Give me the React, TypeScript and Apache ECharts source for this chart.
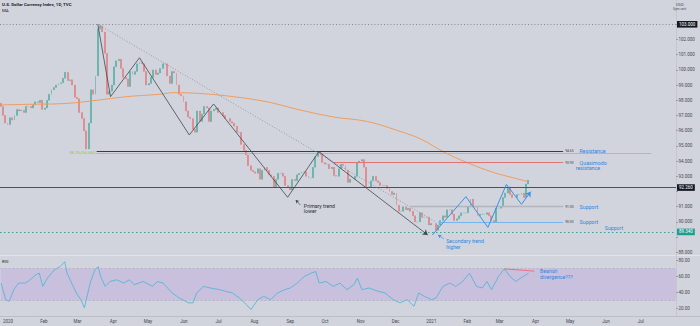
import React, { useEffect, useRef } from 'react';
import * as echarts from 'echarts';

// ---------- time frame ----------
const AXIS_START_UTC = Date.UTC(2019, 11, 26);
const AXIS_DAYS = 584;
const monthNames = ['Jan', 'Feb', 'Mar', 'Apr', 'May', 'Jun', 'Jul', 'Aug', 'Sep', 'Oct', 'Nov', 'Dec'];

// ---------- price: 2-day candles starting 2019-12-26 (close values) ----------
const CANDLE_STEP = 2;
const firstOpen = 97.8;
const closes = [
  // Dec 2019
  97.6, 97.0, 96.5,
  // Jan 2020
  96.4, 96.85, 96.7, 97.0, 97.4, 97.3, 97.35, 97.2, 97.6, 97.6, 97.5, 97.7, 97.9, 97.85, 98.0, 97.4,
  // Feb
  97.5, 98.0, 98.4, 98.7, 98.85, 99.0, 99.1, 99.15, 99.45, 99.85, 99.3, 99.35, 99.0, 98.2,
  // Mar
  98.1, 97.2, 96.8, 96.0, 94.8, 96.5, 98.7, 98.4, 99.6, 102.7, 102.9, 102.5, 101.1, 98.4, 98.6, 99.0,
  // Apr
  100.2, 100.6, 100.7, 100.1, 99.5, 99.4, 98.9, 99.9, 99.7, 99.9, 100.4, 100.5, 100.4, 99.9, 99.0,
  // May
  99.1, 99.5, 100.0, 99.7, 99.8, 100.1, 100.4, 100.4, 99.6, 99.1, 99.9, 99.8, 99.0, 98.4, 98.3,
  // Jun
  97.9, 97.3, 96.9, 96.8, 96.1, 95.9, 97.3, 96.6, 97.1, 97.6, 97.5, 96.6, 97.3, 97.4, 97.5,
  // Jul
  97.2, 97.2, 97.0, 96.8, 96.8, 96.6, 96.5, 96.3, 95.9, 95.9, 95.1, 94.7, 94.4, 93.7, 93.4, 93.3,
  // Aug
  93.2, 93.5, 92.8, 93.4, 93.6, 93.4, 93.1, 93.0, 92.3, 92.8, 93.2, 93.2, 93.0, 92.4, 92.3,
  // Sep
  92.1, 92.8, 92.7, 93.1, 93.2, 93.3, 93.3, 93.0, 92.9, 92.9, 93.6, 94.3, 94.6, 94.5, 93.9,
  // Oct
  93.8, 93.8, 93.5, 93.6, 93.05, 93.0, 93.5, 93.8, 93.7, 93.4, 92.6, 92.8, 92.8, 93.0, 93.9, 94.0,
  // Nov
  94.1, 93.6, 92.3, 92.3, 92.7, 93.0, 92.7, 92.6, 92.4, 92.4, 92.4, 92.2, 92.0, 91.8, 91.9,
  // Dec
  91.1, 90.7, 90.7, 91.0, 90.8, 90.9, 90.7, 90.4, 90.0, 90.0, 90.6, 90.3, 90.3, 90.3, 89.8,
  // Jan 2021
  89.9, 89.9, 89.45, 89.8, 90.1, 90.4, 90.3, 90.8, 90.8, 90.5, 90.1, 90.2, 90.4, 90.6, 90.6, 90.6,
  // Feb
  91.0, 91.5, 91.0, 91.0, 90.4, 90.5, 90.5, 90.5, 90.6, 90.4, 90.1, 90.0, 90.9, 90.9,
  // Mar
  91.0, 91.6, 91.9, 92.3, 91.8, 91.6, 91.6, 91.8, 91.8, 91.9, 91.6, 92.5, 92.756,
];

// ---------- moving average (day offsets from axis start) ----------
const maDays = [0, 28, 58, 83, 109, 138, 149, 172, 201, 230, 259, 288, 317, 346, 363, 383, 403, 426, 443, 456];
const maValues = [97.7, 97.74, 97.8, 98.0, 98.24, 98.4, 98.5, 98.45, 98.24, 97.9, 97.36, 96.9, 96.6, 95.93, 95.45, 94.6, 93.9, 93.25, 92.9, 92.65];

// ---------- RSI (day offsets from axis start) ----------
const rsiDays = [0, 4, 7, 11, 15, 21, 25, 30, 33, 36, 40, 46, 51, 55, 57, 61, 65, 69, 72, 77, 81, 84, 86, 90, 94, 100, 106, 111, 115, 123, 131, 135, 140, 148, 154, 162, 166, 169, 175, 181, 189, 194, 200, 206, 212, 216, 222, 227, 233, 239, 245, 250, 256, 262, 268, 272, 275, 281, 287, 293, 299, 305, 308, 312, 318, 326, 332, 339, 345, 351, 357, 361, 366, 372, 376, 382, 388, 393, 399, 405, 411, 416, 420, 424, 430, 435, 440, 445, 449, 456];
const rsiValues = [51.8, 31.2, 29.1, 43.6, 51.8, 51.8, 55.9, 62.1, 64.2, 47.7, 58, 68.3, 72.3, 78.5, 64.2, 51.8, 39.5, 31.2, 21, 51.8, 68.3, 72.3, 60, 47.7, 53.8, 55.9, 51.8, 55.9, 49.8, 53.8, 47.7, 53.8, 51.8, 39.5, 33.3, 27.2, 27.2, 39.5, 47.7, 45.7, 43.6, 41.6, 39.5, 33.3, 25.1, 18.9, 31.2, 35.3, 31.2, 39.5, 43.6, 45.7, 51.8, 60, 64.2, 66.2, 51.8, 53.8, 47.7, 51.8, 43.6, 49.8, 58, 43.6, 45.7, 41.6, 39.5, 31.2, 27.2, 31.2, 23, 39.5, 35.3, 31.2, 33.3, 47.7, 51.8, 47.7, 53.8, 64.2, 47.7, 45.7, 53.8, 43.6, 60, 69.5, 60, 53.8, 58, 64.2];

// ---------- drawings ----------
const primaryTrend: [string, number][] = [
  ['2020-03-19', 103.0], ['2020-03-30', 98.24], ['2020-04-24', 100.8], ['2020-06-06', 95.72],
  ['2020-06-27', 97.76], ['2020-08-30', 91.62], ['2020-09-26', 94.62], ['2020-12-29', 89.14],
];
const secondaryTrend: [string, number][] = [
  ['2021-01-02', 89.14], ['2021-01-31', 91.66], ['2021-02-19', 89.64], ['2021-03-07', 92.47],
  ['2021-03-20', 91.16], ['2021-03-28', 91.99],
];
const trendLine: [string, number][] = [['2020-03-19', 103.0], ['2021-01-05', 90.0]];

const highLevel = 103.0;
const lastClose = 92.756;
const keyLevel = 92.26;
const lowLevel = 89.34;
const resistanceLevel = 94.65;
const fibLevel = 94.545;
const quasimodoLevel = 93.9;
const support1Level = 91.0;
const support2Level = 90.0;
const divergence: [string, number][] = [['2021-03-05', 69.5], ['2021-03-31', 66.7]];

const BG = '#d1d4dc';
const FONT = 'Roboto, "Noto Sans", "DejaVu Sans", sans-serif';
const UP = '#35a898';
const DOWN = '#e66b6e';
const BLUE = '#2f86e0';

const categories: string[] = [];
for (let i = 0; i < AXIS_DAYS; i++) {
  categories.push(new Date(AXIS_START_UTC + i * 86400000).toISOString().slice(0, 10));
}

function buildOption() {
  const candleData = closes.map((c, i) => {
    const o = i === 0 ? firstOpen : closes[i - 1];
    return [categories[i * CANDLE_STEP], o, c, Math.min(o, c), Math.max(o, c)];
  });
  const maData = maDays.map((d, i) => [categories[d], maValues[i]]);
  const rsiData = rsiDays.map((d, i) => [categories[d], rsiValues[i]]);

  const boxLabel = (text: string, bg: string) => ({
    show: true, position: 'end', distance: 1, formatter: text, backgroundColor: bg, color: '#fff',
    fontSize: 4.5, padding: [1, 2, 0.6, 2], fontFamily: FONT,
  });

  const segs = (pts: [string, number][], color: string, width: number, type: any, arrow: boolean, arrowSize = 5) =>
    pts.slice(1).map((p, i) => [
      { coord: pts[i], symbol: 'none', lineStyle: { color, width, type } },
      { coord: p, symbol: arrow && i === pts.length - 2 ? 'arrow' : 'none', symbolSize: arrowSize },
    ]);

  const levelSeg = (from: string, to: string, v: number, color: string, width: number, label: any) => [
    { coord: [from, v], symbol: 'none', lineStyle: { color, width, type: 'solid' }, label },
    { coord: [to, v], symbol: 'none' },
  ];

  const rich = {
    n: { fontSize: 3.4, color: '#3c3f47', fontFamily: FONT },
    t: { fontSize: 5.3, color: BLUE, fontFamily: FONT },
    p: { width: 10.5 },
  };

  const priceMarkLines = [
    { yAxis: highLevel, lineStyle: { color: '#878a93', width: 1, type: [1, 2.2] }, label: boxLabel('103.000', '#131722') },
    { yAxis: keyLevel, lineStyle: { color: '#4e5158', width: 1, type: 'solid' }, label: boxLabel('92.260', '#131722') },
    { yAxis: lowLevel, lineStyle: { color: '#2aa596', width: 1, type: [1.5, 2.5] }, label: boxLabel('89.340', '#1f9e8e') },
    { yAxis: lastClose, lineStyle: { opacity: 0, width: 0 }, label: boxLabel('92.756', '#ef5350') },
    levelSeg('2020-03-18', '2021-07-10', fibLevel, '#9cc84a', 0.8, {
      show: true, position: 'start', distance: 0.5, formatter: '38.2%(94.545)', color: '#9cc84a', fontSize: 4.2, fontFamily: FONT,
    }),
    levelSeg('2020-03-18', '2021-04-25', resistanceLevel, '#3a3d45', 1, {
      show: true, position: 'end', distance: 2, formatter: '{n|94.65}  {t|Resistance}', rich,
    }),
    levelSeg('2020-10-09', '2021-04-25', quasimodoLevel, '#e57373', 1, {
      show: true, position: 'end', distance: 2, offset: [0, 2.5],
      formatter: '{n|93.90}  {t|Quasimodo}\n{p|}{t|resistance}', rich, lineHeight: 5,
    }),
    levelSeg('2020-12-14', '2021-04-25', support1Level, '#b3b5bc', 1.4, {
      show: true, position: 'end', distance: 2, formatter: '{n|91.00}  {t|Support}', rich,
    }),
    levelSeg('2021-01-07', '2021-04-25', support2Level, '#78b4f0', 1, {
      show: true, position: 'end', distance: 2, formatter: '{n|90.00}  {t|Support}', rich,
    }),
    ...segs(trendLine, '#8b8e96', 0.8, [1, 1.8], false),
    ...segs(primaryTrend, '#43464e', 0.8, 'solid', true, 5),
    ...segs(secondaryTrend, '#3b8fe6', 1, 'solid', true, 5),
    ...segs([['2020-09-10', 91.11], ['2020-09-06', 91.44]], '#43464e', 0.7, 'solid', true, 3.2),
    ...segs([['2021-01-12', 88.875], ['2021-01-07', 89.14]], '#3b8fe6', 0.7, 'solid', true, 3.2),
  ];

  const textLabel = (formatter: string, color: string) => ({
    show: true, position: 'right', distance: 0, formatter, color, fontSize: 5.2, lineHeight: 5.6, align: 'left', fontFamily: FONT,
  });

  return {
    animation: false,
    backgroundColor: BG,
    textStyle: { fontFamily: FONT },
    grid: [
      { left: 0, right: 24, top: 9.1, height: 243.2 },
      { left: 0, right: 24, top: 244.4, height: 80.3 },
    ],
    xAxis: [
      { type: 'category', gridIndex: 0, data: categories, boundaryGap: true, show: false },
      {
        type: 'category', gridIndex: 1, data: categories, boundaryGap: true, offset: -8.7,
        axisLine: { show: false }, axisTick: { show: false }, splitLine: { show: false },
        axisLabel: {
          interval: (_i: number, v: string) => v.slice(8) === '01',
          formatter: (v: string) => {
            const m = +v.slice(5, 7);
            return m === 1 ? v.slice(0, 4) : monthNames[m - 1];
          },
          fontSize: 4.5, color: '#45484f', margin: 3, fontFamily: FONT,
        },
      },
    ],
    yAxis: [
      {
        type: 'value', gridIndex: 0, position: 'right', min: 88, max: 104, interval: 1,
        splitLine: { show: false }, axisLine: { show: false },
        axisTick: { show: true, length: 2, lineStyle: { color: '#9a9da5' } },
        axisLabel: {
          showMaxLabel: false, fontSize: 4.5, color: '#45484f', margin: 2.5, fontFamily: FONT,
          formatter: (v: number) => (v === 89 || v === 92 ? '' : v.toFixed(3)),
        },
      },
      {
        type: 'value', gridIndex: 1, position: 'right', min: 0, max: 100, interval: 20,
        splitLine: { show: false }, axisLine: { show: false },
        axisTick: { show: true, length: 2, lineStyle: { color: '#9a9da5' } },
        axisLabel: {
          showMinLabel: false, showMaxLabel: false, fontSize: 4.5, color: '#45484f', margin: 2.5, fontFamily: FONT,
          formatter: (v: number) => v.toFixed(2),
        },
      },
    ],
    series: [
      {
        type: 'candlestick', xAxisIndex: 0, yAxisIndex: 0, data: candleData,
        encode: { x: 0, y: [1, 2, 3, 4] }, barWidth: 1.4,
        itemStyle: { color: UP, color0: DOWN, borderColor: UP, borderColor0: DOWN, borderWidth: 0.3 },
        markLine: {
          silent: true, animation: false, symbol: ['none', 'none'], label: { show: false },
          data: priceMarkLines,
        },
        markPoint: {
          silent: true, animation: false, symbol: 'circle', symbolSize: 0.01,
          itemStyle: { color: 'rgba(0,0,0,0)' },
          data: [
            { coord: ['2020-09-13', 90.89], label: textLabel('Primary trend\nlower', '#2a2d35') },
            { coord: ['2021-01-14', 88.56], label: textLabel('Secondary trend\nhigher', BLUE) },
            { coord: ['2021-05-31', 89.58], label: textLabel('Support', BLUE) },
          ],
        },
      },
      {
        type: 'line', xAxisIndex: 0, yAxisIndex: 0, data: maData, symbol: 'none', smooth: 0.4,
        lineStyle: { color: '#ef9c5c', width: 1 }, z: 3,
      },
      {
        type: 'line', xAxisIndex: 1, yAxisIndex: 1, data: rsiData, symbol: 'none',
        lineStyle: { color: '#56b5d8', width: 0.9 },
        markArea: { silent: true, itemStyle: { color: '#c9c0de' }, data: [[{ yAxis: 30 }, { yAxis: 70 }]] },
        markLine: {
          silent: true, animation: false, symbol: ['none', 'none'], label: { show: false },
          data: [
            { yAxis: 70, lineStyle: { color: '#aaa5bb', width: 0.6, type: [2, 2] } },
            { yAxis: 30, lineStyle: { color: '#aaa5bb', width: 0.6, type: [2, 2] } },
            ...segs(divergence, '#e8708a', 1, 'solid', false),
          ],
        },
        markPoint: {
          silent: true, animation: false, symbol: 'circle', symbolSize: 0.01,
          itemStyle: { color: 'rgba(0,0,0,0)' },
          data: [{ coord: ['2021-04-05', 63.2], label: textLabel('Bearish\ndivergence???', BLUE) }],
        },
      },
    ],
    graphic: [
      { type: 'line', z: 0, shape: { x1: 0, y1: 255.5, x2: 700, y2: 255.5 }, style: { stroke: '#e2e4ea', lineWidth: 1 } },
      { type: 'line', z: 0, shape: { x1: 0, y1: 316.5, x2: 700, y2: 316.5 }, style: { stroke: '#bcbfc7', lineWidth: 1 } },
      { type: 'line', z: 0, shape: { x1: 676.5, y1: 0, x2: 676.5, y2: 316 }, style: { stroke: '#c4c7cf', lineWidth: 1 } },
      { type: 'text', left: 2, top: 2.5, z: 100, style: { text: 'U.S. Dollar Currency Index, 1D, TVC', fontSize: 4.4, fontWeight: 'bold', fill: '#1d1f24', fontFamily: FONT } },
      { type: 'text', left: 2, top: 8.6, z: 100, style: { text: 'MA', fontSize: 4.4, fill: '#1d1f24', fontFamily: FONT } },
      { type: 'text', left: 676, top: 2.4, z: 100, style: { text: 'USD', fontSize: 4, fill: '#45484f', fontFamily: FONT } },
      { type: 'text', left: 673, top: 7.6, z: 100, style: { text: 'Sym.unit', fontSize: 3.4, fill: '#45484f', fontFamily: FONT } },
      { type: 'text', left: 2, top: 259.5, z: 100, style: { text: 'RSI', fontSize: 4.4, fill: '#1d1f24', fontFamily: FONT } },
    ],
  };
}

export default function App() {
  const ref = useRef<HTMLDivElement>(null);
  useEffect(() => {
    if (!ref.current) return;
    const chart = echarts.init(ref.current, null, { renderer: 'svg' });
    chart.setOption(buildOption() as any);
    return () => chart.dispose();
  }, []);
  return <div ref={ref} style={{ position: 'fixed', left: 0, top: 0, width: 700, height: 326 }} />;
}
